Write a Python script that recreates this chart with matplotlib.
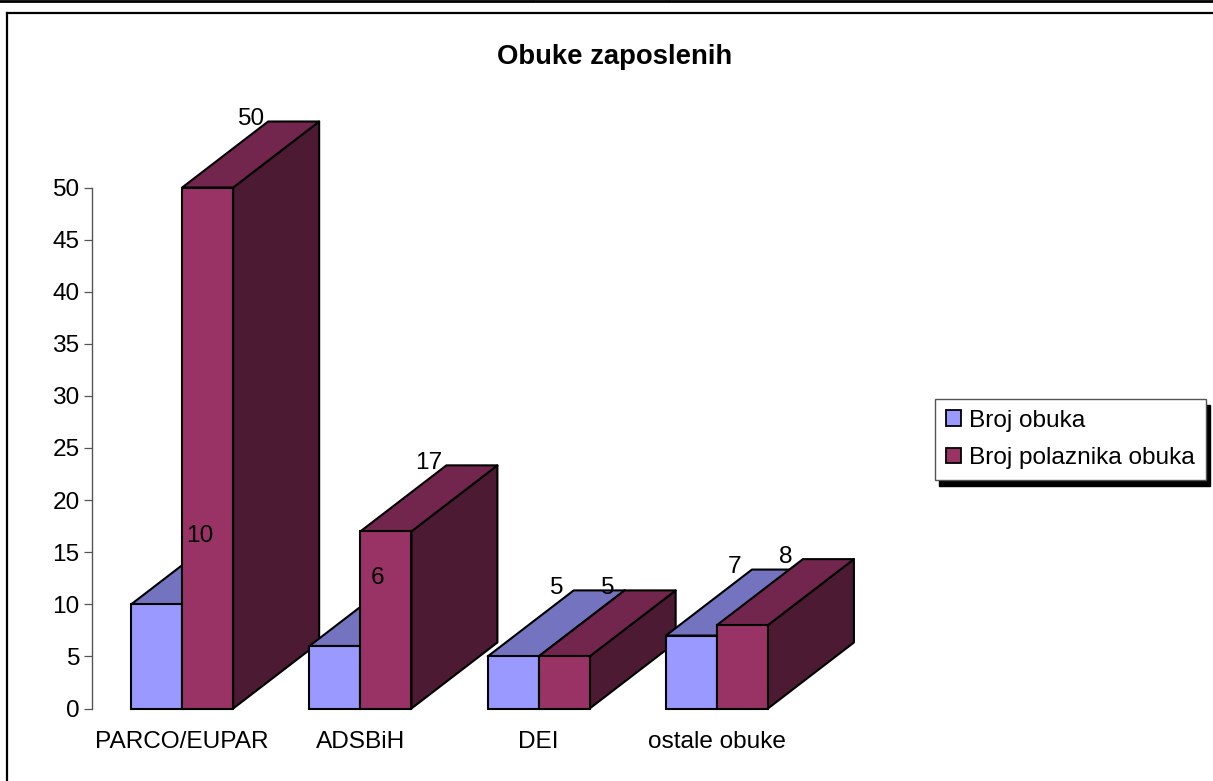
import matplotlib
matplotlib.use("Agg")
import matplotlib.pyplot as plt
from matplotlib.patches import Polygon, Patch, Rectangle
from matplotlib.lines import Line2D

categories = ["PARCO/EUPAR", "ADSBiH", "DEI", "ostale obuke"]
broj_obuka = [10, 6, 5, 7]
broj_polaznika = [50, 17, 5, 8]
series_names = ["Broj obuka", "Broj polaznika obuka"]
y_ticks = list(range(0, 55, 5))

W, H = 1213, 781
plt.rcParams["font.family"] = ["Liberation Sans", "DejaVu Sans"]
FS = 17.6
fig = plt.figure(figsize=(W / 100, H / 100), dpi=100, facecolor="white")

def fx(p): return p / W
def fy(p): return 1 - p / H

# outer frame and page rules
for xs, ys, lw in [([0, 532], [1, 1], 2.0), ([534, 668], [1, 1], 2.0), ([670, W], [1, 1], 2.0),
                   ([7, 7], [13, H], 1.6), ([7, W], [13, 13], 1.6)]:
    fig.add_artist(Line2D([fx(x) for x in xs], [fy(y) for y in ys], color="black", lw=lw,
                          transform=fig.transFigure))

# plot area: y=0 at px 708, y=50 at px 187; category pitch 178.3 px
L, R, Y0, Y50 = 92, 805, 708.5, 187.5
ax = fig.add_axes([fx(L), fy(Y0), fx(R - L), (Y0 - Y50) / H])
ax.set_xlim(-0.506, 3.494)
ax.set_ylim(0, 50)
ax.patch.set_alpha(0)
for s in ("top", "right", "bottom"):
    ax.spines[s].set_visible(False)
ax.spines["left"].set_color("#555555")
ax.spines["left"].set_linewidth(1.0)
ax.set_yticks(y_ticks)
ax.set_xticks(range(len(categories)))
ax.set_xticklabels(categories, fontsize=FS)
ax.tick_params(axis="y", labelsize=FS, length=6, width=0.9, color="#555555", pad=3)
ax.tick_params(axis="x", length=0, pad=16)

bw = 51 / 178.3
dx = 86 / 178.3
dy = 66 / (Y0 - Y50) * 50
EC, LW = "black", 1.5
styles = [("#9999FF", "#7373BF", "#4D4D80"), ("#993366", "#73264D", "#4D1A33")]

z = 2
for i in range(len(categories)):
    for off, vals, (front, top, side) in zip((-1, 0), (broj_obuka, broj_polaznika), styles):
        v = vals[i]
        x0 = i + off * bw
        x1 = x0 + bw
        kw = dict(edgecolor=EC, linewidth=LW, joinstyle="round", clip_on=False)
        ax.add_patch(Polygon([(x1, 0), (x1 + dx, dy), (x1 + dx, v + dy), (x1, v)],
                             facecolor=side, zorder=z, **kw))
        ax.add_patch(Polygon([(x0, v), (x0 + dx, v + dy), (x1 + dx, v + dy), (x1, v)],
                             facecolor=top, zorder=z, **kw))
        ax.bar(x0 + bw / 2, v, width=bw, facecolor=front, zorder=z + 0.1, clip_on=False, **{"edgecolor": EC, "linewidth": LW})
        z += 1

for off, vals in zip((-1, 0), (broj_obuka, broj_polaznika)):
    for i, v in enumerate(vals):
        ax.text(i + off * bw + bw / 2 + dx / 2, v + dy + 0.2, str(v), ha="center", va="center",
                fontsize=FS, color="black", zorder=100, clip_on=False)

fig.text(fx(615), fy(57), "Obuke zaposlenih", ha="center", va="center", fontsize=FS + 2.2, fontweight="bold")

# legend
handles = [Patch(facecolor=styles[0][0], edgecolor="black", linewidth=1.3, label=series_names[0]),
           Patch(facecolor=styles[1][0], edgecolor="black", linewidth=1.3, label=series_names[1])]
leg = fig.legend(handles=handles, loc="upper left", bbox_to_anchor=(fx(935), fy(399)),
                 fontsize=FS, frameon=True, fancybox=False, framealpha=1, edgecolor="#555555",
                 shadow={"ox": 3, "oy": -4, "color": "black", "alpha": 1},
                 handlelength=0.62, handleheight=0.62, handletextpad=0.32, labelspacing=0.62,
                 borderpad=0.45, borderaxespad=0, prop=None)
leg.get_frame().set_linewidth(1.0)

fig.savefig("out.png", dpi=100, facecolor="white")
